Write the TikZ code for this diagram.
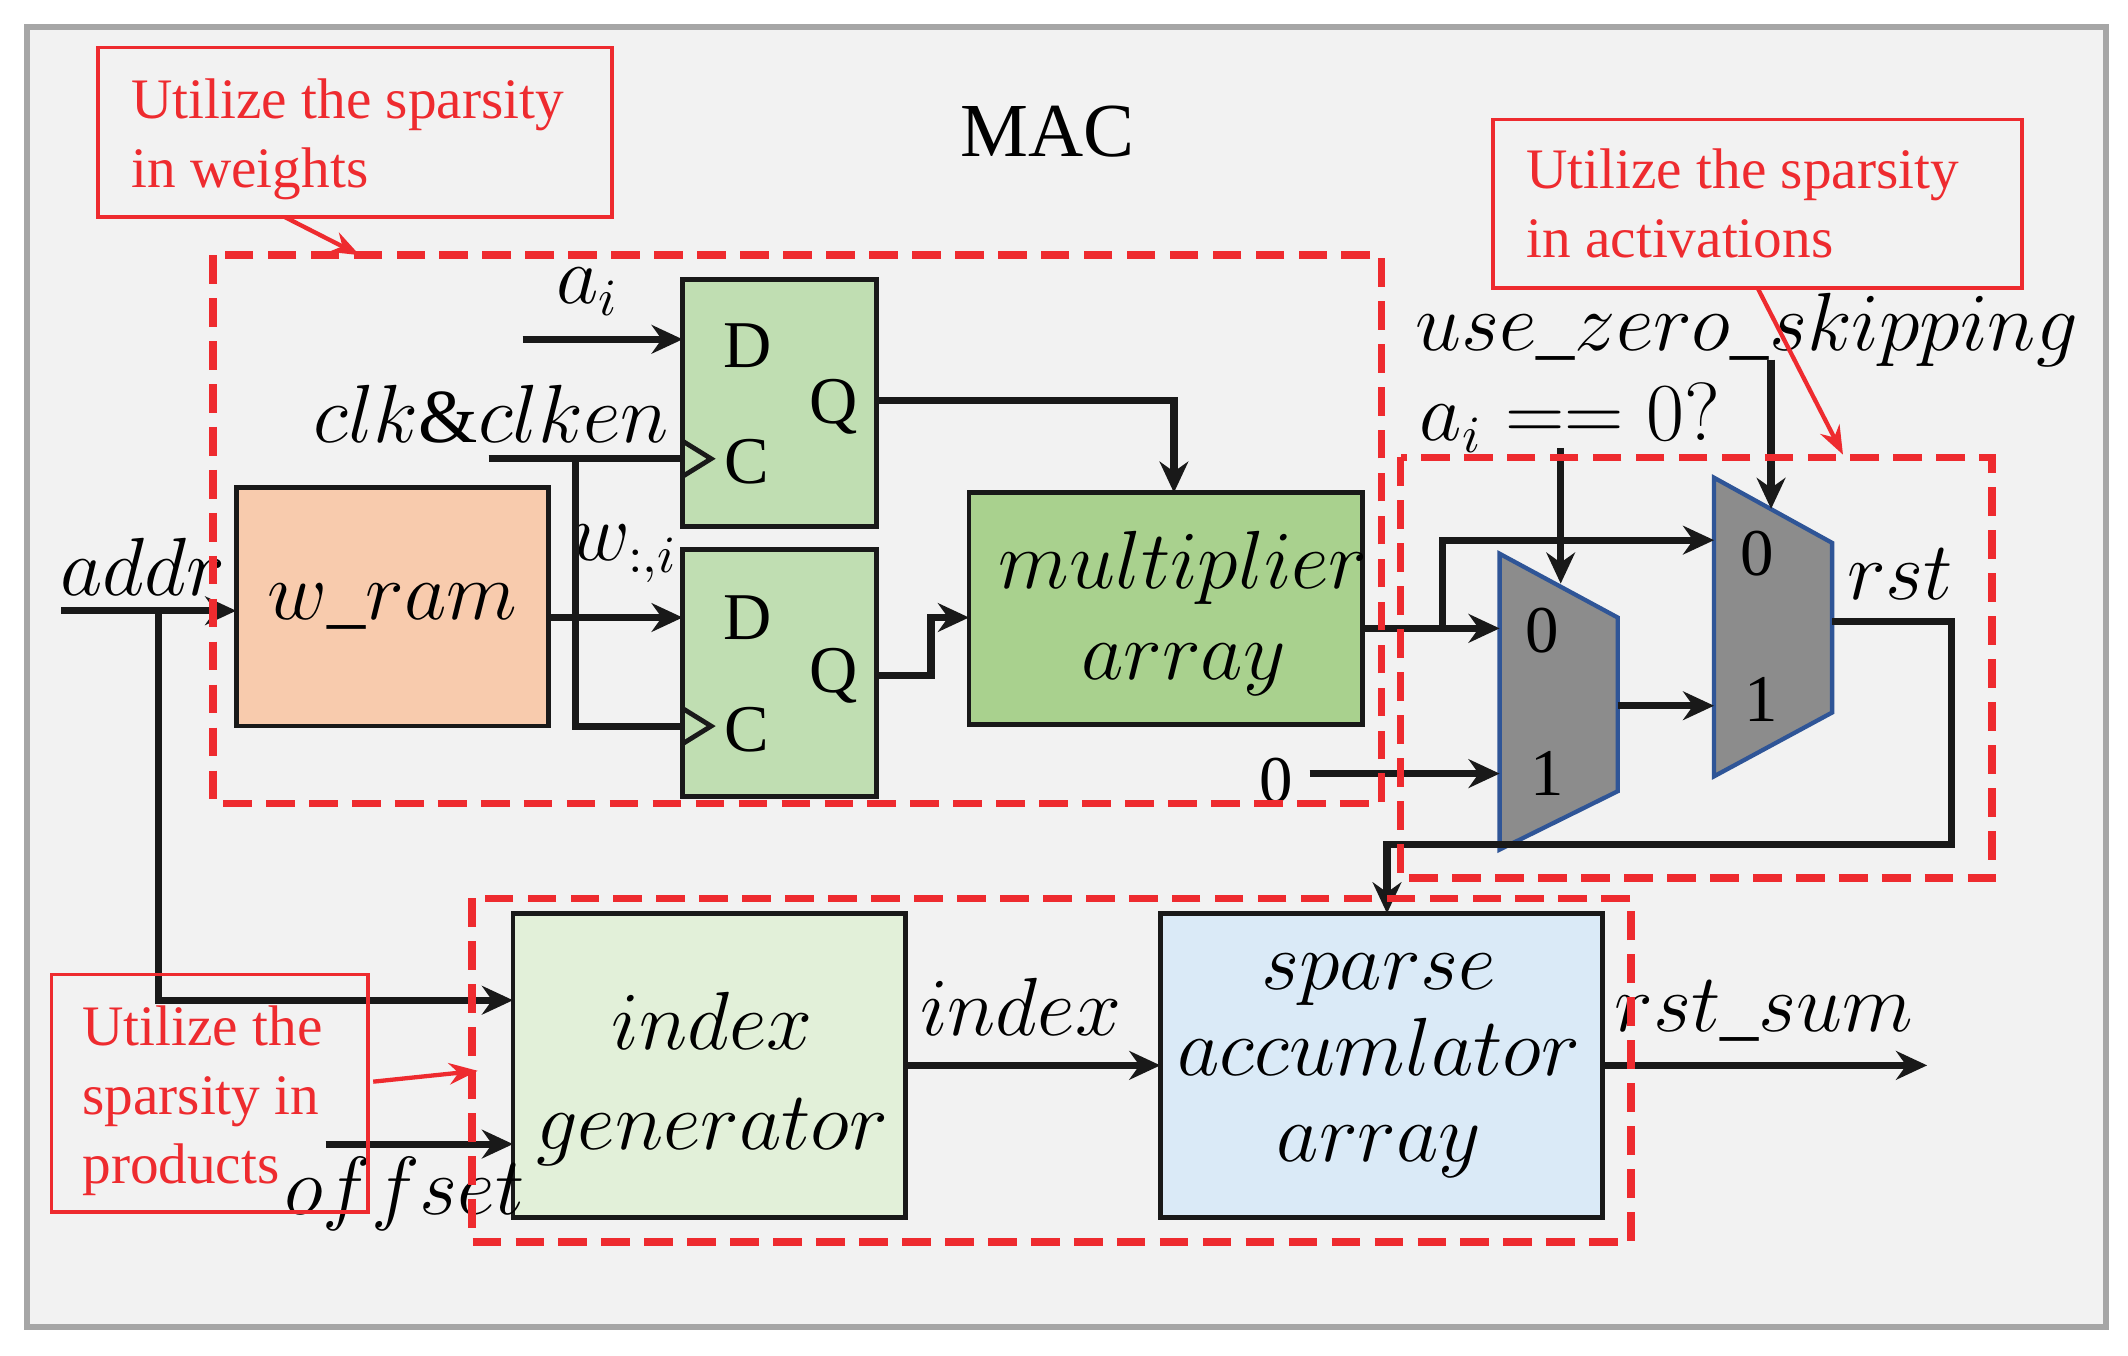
\documentclass[tikz,border=0pt]{standalone}
\usepackage{fontspec}
\setmainfont{Liberation Serif}
\usetikzlibrary{arrows.meta}
\definecolor{bg}{HTML}{F2F2F2}
\definecolor{redc}{HTML}{EE2B2F}
\begin{document}
\begin{tikzpicture}[x=0.01cm,y=-0.01cm,
  wire/.style={line width=1.5pt,black!90},
  arr/.style={wire,-{Stealth[length=6.5pt,width=6pt]}},
  blk/.style={draw=black!90,line width=1pt},
  note/.style={text=redc,align=left,font=\fontsize{12}{14.5}\selectfont,inner sep=0pt},
  reddash/.style={draw=redc,line width=1.6pt,dash pattern=on 6pt off 3pt},
  lab/.style={font=\fontsize{16}{19}\selectfont,inner sep=0pt},
  dq/.style={font=\fontsize{14}{17}\selectfont,inner sep=0pt},
  mux/.style={fill=black!45,draw={rgb,255:red,47;green,85;blue,151},line width=0.9pt}]
\useasboundingbox (0,0) rectangle (1568,998.5);
\draw[fill=bg,draw=black!35,line width=1.2pt] (20,20) rectangle (1552,978);
\node[font=\fontsize{16}{19}\selectfont] (mac) at (772,97) {MAC};
% blocks
\draw[blk,fill={rgb,255:red,248;green,203;blue,173}] (174,359) rectangle (404,535) node[midway,lab] (wram) {$w\_ram$};
\draw[blk,fill={rgb,255:red,192;green,222;blue,178}] (503,206) rectangle (646,388);
\draw[blk,fill={rgb,255:red,192;green,222;blue,178}] (503,405) rectangle (646,587);
\draw[blk,line width=1pt] (503,325)--(524,338)--(503,351) (503,522)--(524,535)--(503,548);
\node[dq] at (551,255) {D}; \node[dq] at (614,300) {Q}; \node[dq] at (550,340) {C};
\node[dq] at (551,455) {D}; \node[dq] at (614,498) {Q}; \node[dq] at (550,538) {C};
\draw[blk,fill={rgb,255:red,169;green,209;blue,142}] (714,363) rectangle (1004,534);
\node[lab,align=center] (mult) at (872,452) {$multiplier$\\[0pt]$array$};
\draw[blk,fill={rgb,255:red,226;green,240;blue,217}] (378,673) rectangle (667,897);
\node[lab,align=center] (idx) at (525,795) {$index$\\[2pt]$generator$};
\draw[blk,fill={rgb,255:red,218;green,234;blue,247}] (855,673) rectangle (1181,897);
\node[lab,align=center] (acc) at (1016,785) {$sparse$\\[-1pt]$accumlator$\\[-1pt]$array$};
% muxes
\draw[mux] (1105,408)--(1192,455)--(1192,583)--(1105,626)--cycle;
\draw[mux] (1263,352)--(1350,400)--(1350,525)--(1263,572)--cycle;
\node[dq] at (1136,465) {0}; \node[dq] at (1140,570) {1};
\node[dq] at (1295,408) {0}; \node[dq] at (1298,515) {1};
% labels
\node[lab] at (433,215) {$a_i$};
\node[lab] at (362,305) {$clk\&clken$};
\node[lab] at (105,418) {$addr$};
\node[lab] at (460,408) {$w_{:,i}$};
\node[dq] at (940,575) {0};
\node[lab] at (1157,308) {$a_i == 0?$};
\node[lab] at (1287,243) {$use\_zero\_skipping$};
\node[lab] at (1400,423) {$rst$};
\node[lab] at (752,742) {$index$};
\node[lab] at (1300,745) {$rst\_sum$};
\node[lab] at (298,880) {$offset$};
% wires
\draw[arr] (385,250)--(503,250);
\draw[wire] (360,338)--(503,338);
\draw[wire] (424,338)--(424,535)--(503,535);
\draw[arr] (45,450)--(174,450);
\draw[arr] (117,450)--(117,737)--(378,737);
\draw[arr] (404,455)--(503,455);
\draw[arr] (646,295)--(865,295)--(865,363);
\draw[arr] (646,498)--(686,498)--(686,455)--(714,455);
\draw[arr] (1004,463)--(1105,463);
\draw[arr] (1063,463)--(1063,398)--(1263,398);
\draw[arr] (965,570)--(1105,570);
\draw[arr] (1150,330)--(1150,430);
\draw[arr] (1305,265)--(1305,375);
\draw[arr] (1192,520)--(1263,520);
\draw[arr] (1350,458)--(1438,458)--(1438,622)--(1022,622)--(1022,673);
\draw[arr] (667,785)--(855,785);
\draw[arr] (240,843)--(378,843);
\draw[arr] (1181,785)--(1420,785);
% red annotations
\draw[reddash] (157,188) rectangle (1018,592);
\draw[reddash] (1032,337) rectangle (1468,647);
\draw[reddash] (348,662) rectangle (1202,915);
\draw[draw=redc,line width=0.8pt] (72,35) rectangle (451,160);
\node[note,anchor=north west] (n1) at (96,57) {Utilize the sparsity\\in weights};
\draw[draw=redc,line width=0.8pt] (1100,88) rectangle (1490,212);
\node[note,anchor=north west] (n2) at (1124,109) {Utilize the sparsity\\in activations};
\draw[draw=redc,line width=0.8pt] (38,718) rectangle (271,893);
\node[note,anchor=north west] (n3) at (60,740) {Utilize the\\sparsity in\\products};
\draw[redc,line width=0.9pt,-{Stealth[length=6pt]}] (210,160)--(265,188);
\draw[redc,line width=0.9pt,-{Stealth[length=6pt]}] (1295,212)--(1358,335);
\draw[redc,line width=0.9pt,-{Stealth[length=6pt]}] (275,797)--(352,789);
\end{tikzpicture}
\end{document}
